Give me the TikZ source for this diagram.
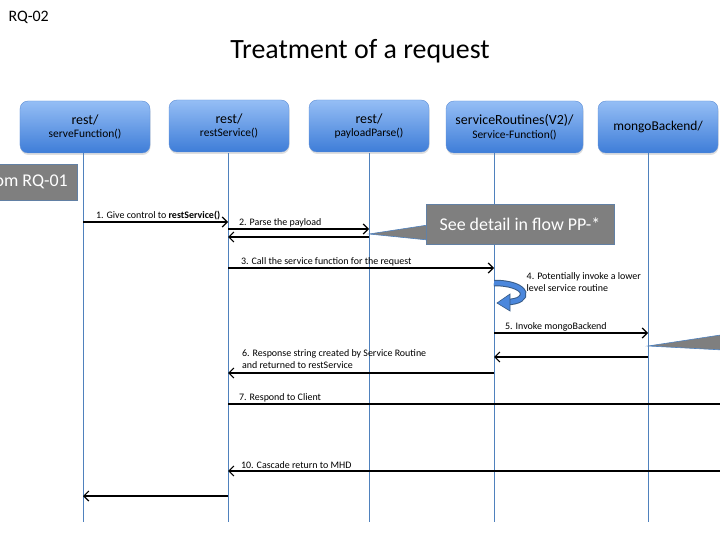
\documentclass[tikz,border=0pt]{standalone}
\usepackage{fontspec}
\setmainfont{Carlito}
\usetikzlibrary{positioning,arrows.meta,shadows}

\definecolor{boxtop}{HTML}{95BEF5}
\definecolor{boxbot}{HTML}{3E7DD8}
\definecolor{boxline}{HTML}{5F8FD6}
\definecolor{lifeblue}{HTML}{4F81BD}
\definecolor{notegray}{HTML}{7F7F7F}

\newcommand{\boxtitle}[2]{{\fontsize{14}{15}\selectfont #1}\\[1.5pt]{\fontsize{11.5}{13}\selectfont #2}}

\tikzset{
  actor/.style={rounded corners=8bp, draw=boxline, top color=boxtop, bottom color=boxbot,
    minimum height=52bp, align=center, text=black, inner sep=1bp,
    drop shadow={shadow xshift=0.5bp, shadow yshift=-2bp, opacity=0.25}},
  life/.style={draw=lifeblue, line width=0.8bp},
  msg/.style={-{Straight Barb[length=5bp,width=10bp]}, line width=1.2bp},
  lbl/.style={font=\fontsize{10}{12}\selectfont, inner sep=1.5bp},
  note/.style={fill=notegray, draw=lifeblue!60!notegray, text=white,
    font=\fontsize{18}{20}\selectfont},
}

\begin{document}
\begin{tikzpicture}[x=1bp, y=-1bp]
  \useasboundingbox (0,0) rectangle (720,540);

  \node[anchor=west, font=\fontsize{16}{18}\selectfont] (rq) at (5,17) {RQ-02};
  \node[font=\fontsize{28}{30}\selectfont] (title) at (360,51) {Treatment of a request};

  \node[actor, minimum width=130bp] (sf) at (85,127) {\boxtitle{rest/}{serveFunction()}};
  \node[actor, minimum width=120bp] (rs) at (229,126) {\boxtitle{rest/}{restService()}};
  \node[actor, minimum width=120bp] (pp) at (369,126) {\boxtitle{rest/}{payloadParse()}};
  \node[actor, minimum width=137bp] (sr) at (514.5,127) {\boxtitle{serviceRoutines(V2)/}{Service-Function()}};
  \node[actor, minimum width=120bp] (mb) at (658,127) {\fontsize{13.5}{15}\selectfont mongoBackend/};

  % lifelines
  \foreach \n/\x in {sf/83, rs/228, pp/369, sr/494, mb/648} {
    \coordinate (\n-top) at (\x,153);
    \coordinate (\n-end) at (\x,522);
    \draw[life] (\n-top) -- (\n-end);
  }
  \coordinate (client) at (780,0);

  % message rows
  \foreach \r/\y in {g1/222, g2/229, r2/237, g3/268, g5/333, r5/357,
                     g6/373, g7/404, g10/471, g11/496}
    \coordinate (\r) at (0,\y);

  \path[msg]
    (sf-top |- g1) edge node[lbl, pos=0, anchor=south west, xshift=11bp]
      {1. Give control to \textbf{restService()}} (rs-top |- g1)
    (rs-top |- g2) edge node[lbl, pos=0, anchor=south west, xshift=9bp]
      {2. Parse the payload} (pp-top |- g2)
    (pp-top |- r2) edge (rs-top |- r2)
    (rs-top |- g3) edge node[lbl, pos=0, anchor=south west, xshift=11bp]
      {3. Call the service function for the request} (sr-top |- g3)
    (sr-top |- g5) edge node[lbl, pos=0, anchor=south west, xshift=9bp]
      {5. Invoke mongoBackend} (mb-top |- g5)
    (mb-top |- r5) edge (sr-top |- r5)
    (sr-top |- g6) edge node[lbl, pos=1, anchor=south west, xshift=12bp, yshift=2bp, align=left]
      {6. Response string created by Service Routine\\and returned to restService} (rs-top |- g6)
    (client |- g10) edge node[lbl, pos=1, anchor=south west, xshift=11bp]
      {10. Cascade return to MHD} (rs-top |- g10)
    (rs-top |- g11) edge (sf-top |- g11);
  \draw[line width=1.2bp] (rs-top |- g7) -- node[lbl, pos=0, anchor=south west, xshift=9bp]
      {7. Respond to Client} (client |- g7);

  % self call
  \draw[line width=6.5bp, draw=lifeblue!70!black]
    (494,283) .. controls (530,283) and (531,302) .. (507,302);
  \draw[line width=4.5bp, draw=boxbot!85!boxtop]
    (494,283) .. controls (530,283) and (531,302) .. (507,302);
  \filldraw[fill=boxbot!85!boxtop, draw=lifeblue!70!black, line width=0.6bp]
    (497,303) -- (510,294) -- (510,311) -- cycle;
  \node[lbl, anchor=north west, align=left] (self) at (525,271)
    {4. Potentially invoke a lower\\level service routine};

  % notes
  \node[note, anchor=east, minimum height=36bp, inner xsep=9bp] (rq01) at (77,182) {From RQ-01};
  \filldraw[fill=notegray, draw=lifeblue, line width=0.6bp] (369,234) -- (428,225) -- (428,240) -- cycle;
  \node[note, minimum width=188bp, minimum height=40bp] (pp-note) at (520,224) {See detail in flow PP-*};
  \filldraw[fill=notegray, draw=lifeblue, line width=0.6bp] (648,346) -- (780,326) -- (780,353) -- cycle;
\end{tikzpicture}
\end{document}
